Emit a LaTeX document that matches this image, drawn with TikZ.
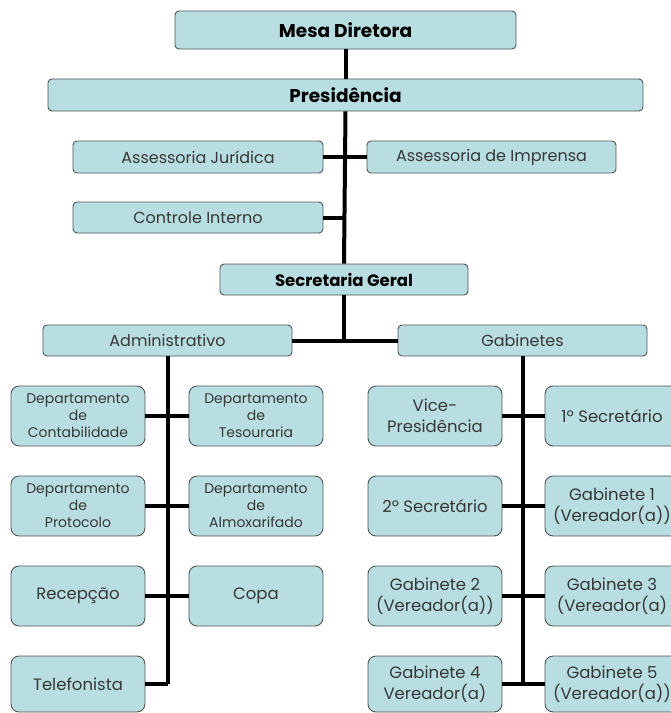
\documentclass[tikz,border=0pt]{standalone}
\usepackage{fontspec}
\setmainfont{Poppins}
\definecolor{boxfill}{RGB}{184,222,225}
\definecolor{boxline}{RGB}{80,84,86}
\definecolor{txt}{RGB}{55,55,55}
\begin{document}
\begin{tikzpicture}[x=1pt,y=-1pt,
  box/.style={draw=boxline,fill=boxfill,line width=0.9pt,rounded corners=4pt,inner sep=0pt,align=center,font=\fontsize{16}{19}\selectfont,text=txt},
  topbox/.style={box,font=\fontsize{18.5}{22}\selectfont\bfseries,text=black},
  small/.style={box,minimum width=134pt,minimum height=60pt,rounded corners=8pt,font=\fontsize{14}{17}\selectfont},
  big/.style={small,font=\fontsize{16.5}{21}\selectfont},
  link/.style={line width=4pt,black}]
\useasboundingbox (0,0) rectangle (671,713);
\clip (0,0) rectangle (671,713);
% top
\node[topbox,minimum width=341pt,minimum height=38pt] (mesa) at (345.5,30) {Mesa Diretora};
\node[topbox,minimum width=595pt,minimum height=32pt] (pres) at (345.5,95) {Presidência};
\node[box,minimum width=250pt,minimum height=32pt] (asj) at (198,157) {Assessoria Jurídica};
\node[box,minimum width=249pt,minimum height=32pt] (asi) at (491.5,157) {Assessoria de Imprensa};
\node[box,minimum width=250pt,minimum height=31pt] (ci) at (198,217.5) {Controle Interno};
\node[topbox,minimum width=248pt,minimum height=31pt,font=\fontsize{16.5}{20}\selectfont\bfseries] (sg) at (344,279.5) {Secretaria Geral};
\node[box,minimum width=249pt,minimum height=31pt] (adm) at (167.5,340.5) {Administrativo};
\node[box,minimum width=249pt,minimum height=31pt] (gab) at (522.5,340.5) {Gabinetes};
% left column
\node[small] (a1) at (78,416) {Departamento\\de\\Contabilidade};
\node[small] (b1) at (256,416) {Departamento\\de\\Tesouraria};
\node[small] (a2) at (78,506) {Departamento\\de\\Protocolo};
\node[small] (b2) at (256,506) {Departamento\\de\\Almoxarifado};
\node[big] (a3) at (78,596) {Recepção};
\node[big] (b3) at (256,596) {Copa};
\node[big,minimum height=56pt] (a4) at (78,684) {Telefonista};
% right column
\node[big] (c1) at (435,416) {Vice-\\Presidência};
\node[big] (d1) at (612,416) {1º Secretário};
\node[big] (c2) at (435,506) {2º Secretário};
\node[big] (d2) at (612,506) {Gabinete 1\\(Vereador(a))};
\node[big] (c3) at (435,596) {Gabinete 2\\(Vereador(a))};
\node[big] (d3) at (612,596) {Gabinete 3\\(Vereador(a)};
\node[big,minimum height=56pt] (c4) at (435,684) {Gabinete 4\\Vereador(a)};
\node[big,minimum height=56pt] (d4) at (612,684) {Gabinete 5\\(Vereador(a))};
% connectors
\coordinate (j) at (sg.south |- adm.east);
\coordinate (ciJ) at (sg.north |- ci.east);
\coordinate (admEnd) at (adm.south |- a4.east);
\coordinate (gabEnd) at (gab.south |- c4.east);
\draw[link] (mesa.south) -- (pres.north);
\draw[link] (pres.south) -- (sg.north);
\draw[link] (sg.south) -- (j);
\draw[link] (asj.east) -- (asi.west);
\draw[link] (ci.east) -- (ciJ);
\draw[link] (adm.east) -- (gab.west);
\draw[link] (adm.south) -- (admEnd);
\draw[link] (gab.south) -- (gabEnd);
\draw[link] (a1.east) -- (b1.west);
\draw[link] (a2.east) -- (b2.west);
\draw[link] (a3.east) -- (b3.west);
\draw[link] (a4.east) -- (admEnd);
\draw[link] (c1.east) -- (d1.west);
\draw[link] (c2.east) -- (d2.west);
\draw[link] (c3.east) -- (d3.west);
\draw[link] (c4.east) -- (d4.west);
\end{tikzpicture}
\end{document}
